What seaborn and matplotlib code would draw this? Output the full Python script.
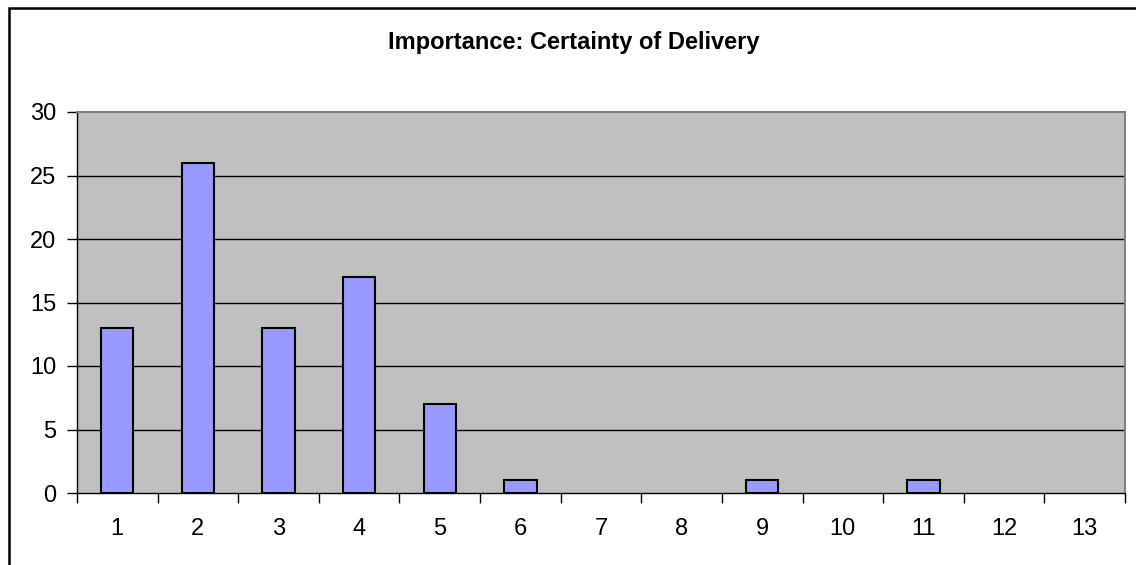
import matplotlib
matplotlib.use("Agg")
import matplotlib.pyplot as plt
import seaborn as sns
import numpy as np
from matplotlib.patches import Rectangle

# data
ratings = ["1", "2", "3", "4", "5", "6", "7", "8", "9", "10", "11", "12", "13"]
counts = [13, 26, 13, 17, 7, 1, 0, 0, 1, 0, 1, 0, 0]
yticks = [0, 5, 10, 15, 20, 25, 30]

sns.set_style("white")
plt.rcParams['font.family'] = ['Liberation Sans', 'DejaVu Sans']
plt.rcParams['text.color'] = "black"
plt.rcParams['xtick.color'] = "black"
plt.rcParams['ytick.color'] = "black"

fig = plt.figure(figsize=(11.36, 5.65), dpi=100)
ax = fig.add_axes([77 / 1136, 72 / 565, 1048 / 1136, 381 / 565])
ax.set_facecolor("#C0C0C0")

# horizontal gridlines
for v in yticks[1:-1]:
    ax.axhline(v, color="black", lw=1, zorder=1)

sns.barplot(x=ratings, y=counts, color="#9999FF", edgecolor="black",
            linewidth=1.5, width=0.4, saturation=1, ax=ax, zorder=2)

# empty categories show nothing in the original
for p in ax.patches:
    if p.get_height() == 0:
        p.set_visible(False)

ax.set_xlim(-0.5, len(ratings) - 0.5)
ax.set_ylim(0, 30)
ax.set_yticks(yticks)
ax.set_yticklabels([str(v) for v in yticks], fontsize=17)

# ticks between categories, labels in the middle
ax.set_xticks(np.arange(-0.5, len(ratings), 1.0))
ax.set_xticklabels([])
ax.set_xticks(np.arange(len(ratings)), minor=True)
ax.set_xticklabels(ratings, minor=True, fontsize=17)
ax.tick_params(axis="x", which="major", bottom=True, direction="out",
               length=7, width=1, color="black")
ax.tick_params(axis="x", which="minor", bottom=True, length=0, pad=18)
ax.tick_params(axis="y", left=True, direction="out", length=7, width=1,
               color="black", pad=8)

ax.set_xlabel("")
ax.set_ylabel("")

for side in ["top", "right"]:
    ax.spines[side].set_color("#808080")
    ax.spines[side].set_linewidth(1.5)
for side in ["left", "bottom"]:
    ax.spines[side].set_color("black")
    ax.spines[side].set_linewidth(1)

fig.text(574 / 1136, 1 - 43 / 565, "Importance: Certainty of Delivery",
         ha="center", va="center", fontsize=17, fontweight="bold", color="black")

# outer chart border (cropped on the right and bottom)
fig.patches.append(Rectangle((9 / 1136, -0.1), 1.2, 1 - 8 / 565 + 0.1,
                             transform=fig.transFigure, fill=False,
                             edgecolor="black", linewidth=1.8))

fig.savefig("out.png", dpi=100)
